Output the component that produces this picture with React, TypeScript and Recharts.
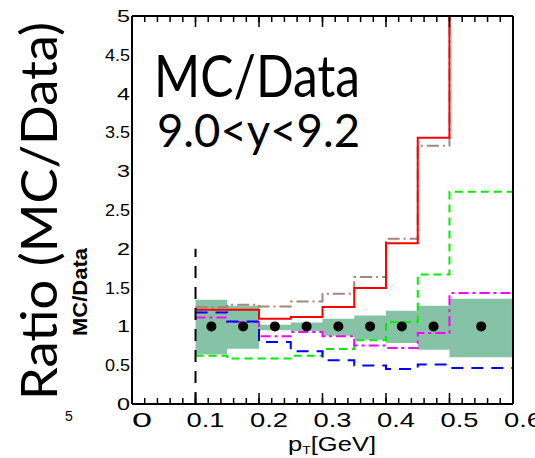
import { ComposedChart, Area, Line, Scatter, XAxis, YAxis, ReferenceLine } from "recharts";

// pT bin edges and centres
const binEdges = [0.1, 0.15, 0.2, 0.25, 0.3, 0.35, 0.4, 0.45, 0.5, 0.6];
const binCenters = [0.125, 0.175, 0.225, 0.275, 0.325, 0.375, 0.425, 0.475, 0.55];

// data points (ratio to itself) and their uncertainty band
const dataRatio = [1, 1, 1, 1, 1, 1, 1, 1, 1];
const bandLow = [0.636, 0.713, 0.949, 0.936, 0.88, 0.829, 0.787, 0.7, 0.602];
const bandHigh = [1.343, 1.266, 1.022, 1.051, 1.099, 1.141, 1.202, 1.266, 1.356];

// MC / Data per generator
const mcRed = [1.215, 1.215, 1.099, 1.121, 1.249, 1.494, 2.072, 3.43, 6.0];
const mcBrown = [1.249, 1.279, 1.257, 1.321, 1.42, 1.635, 2.131, 3.327, 6.0];
const mcGreen = [0.623, 0.585, 0.585, 0.623, 0.709, 0.82, 1.056, 1.668, 2.735];
const mcMagenta = [1.116, 1.056, 0.872, 0.928, 0.872, 0.752, 0.722, 0.915, 1.429];
const mcBlue = [1.18, 1.064, 0.8, 0.679, 0.563, 0.495, 0.452, 0.508, 0.465];

// acceptance cut marker
const cutX = 0.1;
const cutTop = 2;

// axes
const xMajorTicks = [0, 0.1, 0.2, 0.3, 0.4, 0.5, 0.6];
const xTickLabels = ["0", "0.1", "0.2", "0.3", "0.4", "0.5", "0.6"];
const yMajorTicks = [0, 0.5, 1, 1.5, 2, 2.5, 3, 3.5, 4, 4.5, 5];
const yTickLabels = ["0", "0.5", "1", "1.5", "2", "2.5", "3", "3.5", "4", "4.5", "5"];
const xMinorTicks = Array.from({ length: 31 }, (_, i) => +(i * 0.02).toFixed(2));
const yMinorTicks = Array.from({ length: 51 }, (_, i) => +(i * 0.1).toFixed(1));

const nBins = binCenters.length;
const histRows = binEdges.map((x, i) => {
  const b = Math.min(i, nBins - 1);
  return {
    x,
    band: [bandLow[b], bandHigh[b]],
    red: mcRed[b],
    brown: mcBrown[b],
    green: mcGreen[b],
    magenta: mcMagenta[b],
    blue: mcBlue[b],
  };
});
const points = binCenters.map((x, i) => ({ x, ratio: dataRatio[i] }));

const W = 535;
const H = 458;
const AX = 0.01; // axes take (almost) no room, so every side shares the frame line
const axisFont = "'Liberation Sans', Arial, sans-serif";
const titleFont = "Lato, 'Open Sans', sans-serif";
const frame = { stroke: "#000", strokeWidth: 2 };

const XTick = ({ x, y, payload }: any) => {
  const label = xTickLabels[xMajorTicks.indexOf(payload.value)] ?? "";
  return (
    <text
      x={x + 10}
      y={y + 23}
      textAnchor="middle"
      fontFamily={axisFont}
      fontSize={21}
      textLength={label.length > 1 ? 38 : 20}
      lengthAdjust="spacingAndGlyphs"
      fill="#000"
    >
      {label}
    </text>
  );
};

const YTick = ({ x, y, payload }: any) => {
  const label = yTickLabels[yMajorTicks.indexOf(payload.value)] ?? "";
  return (
    <text
      x={x - 2}
      y={y + 6}
      textAnchor="end"
      fontFamily={axisFont}
      fontSize={17}
      textLength={label.length > 1 ? 25 : 13}
      lengthAdjust="spacingAndGlyphs"
      fill="#000"
    >
      {label}
    </text>
  );
};

// inward-pointing tick mark (ROOT style) at the position the axis hands us
const TickMark = ({ x, y, side, len }: any) => {
  const dx = side === "left" ? len : side === "right" ? -len : 0;
  const dy = side === "bottom" ? -len : side === "top" ? len : 0;
  return <line x1={x} y1={y} x2={x + dx} y2={y + dy} stroke="#000" strokeWidth={1.5} />;
};

const tickAxes = [
  { side: "bottom", ticks: xMajorTicks, size: 11 },
  { side: "bottom", ticks: xMinorTicks, size: 6 },
  { side: "top", ticks: xMajorTicks, size: 11 },
  { side: "top", ticks: xMinorTicks, size: 6 },
  { side: "left", ticks: yMajorTicks, size: 12 },
  { side: "left", ticks: yMinorTicks, size: 6 },
  { side: "right", ticks: yMajorTicks, size: 12 },
  { side: "right", ticks: yMinorTicks, size: 6 },
];

export default function App() {
  return (
    <div style={{ position: "absolute", left: 0, top: 0, width: W, height: H, background: "#fff" }}>
      <ComposedChart
        width={W}
        height={H}
        data={histRows}
        margin={{ top: 16, right: 22, bottom: 54, left: 132 }}
      >
        <XAxis
          xAxisId="x"
          dataKey="x"
          type="number"
          domain={[0, 0.6]}
          allowDataOverflow
          ticks={xMajorTicks}
          interval={0}
          height={AX}
          tickSize={0}
          tickMargin={0}
          axisLine={frame}
          tickLine={false}
          tick={<XTick />}
        />
        <XAxis
          xAxisId="xTop"
          orientation="top"
          dataKey="x"
          type="number"
          domain={[0, 0.6]}
          ticks={xMajorTicks}
          height={AX}
          axisLine={frame}
          tickLine={false}
          tick={false}
        />
        <YAxis
          yAxisId="y"
          type="number"
          domain={[0, 5]}
          allowDataOverflow
          ticks={yMajorTicks}
          interval={0}
          width={AX}
          tickSize={0}
          tickMargin={0}
          axisLine={frame}
          tickLine={false}
          tick={<YTick />}
        />
        <YAxis
          yAxisId="yRight"
          orientation="right"
          type="number"
          domain={[0, 5]}
          ticks={yMajorTicks}
          width={AX}
          axisLine={frame}
          tickLine={false}
          tick={false}
        />
        {tickAxes.map((a, i) =>
          a.side === "bottom" || a.side === "top" ? (
            <XAxis
              key={i}
              xAxisId={`t${i}`}
              orientation={a.side as "bottom" | "top"}
              dataKey="x"
              type="number"
              domain={[0, 0.6]}
              ticks={a.ticks}
              interval={0}
              height={AX}
              tickSize={0}
              tickMargin={0}
              axisLine={false}
              tickLine={false}
              tick={<TickMark side={a.side} len={a.size} />}
            />
          ) : (
            <YAxis
              key={i}
              yAxisId={`t${i}`}
              orientation={a.side as "left" | "right"}
              type="number"
              domain={[0, 5]}
              ticks={a.ticks}
              interval={0}
              width={AX}
              tickSize={0}
              tickMargin={0}
              axisLine={false}
              tickLine={false}
              tick={<TickMark side={a.side} len={a.size} />}
            />
          )
        )}

        <Area
          xAxisId="x"
          yAxisId="y"
          dataKey="band"
          type="stepAfter"
          fill="#86c3a6"
          fillOpacity={1}
          stroke="none"
          isAnimationActive={false}
        />
        <Line xAxisId="x" yAxisId="y" dataKey="brown" type="stepAfter" stroke="#a2877a" strokeWidth={2} strokeDasharray="12 4 2 4" dot={false} isAnimationActive={false} />
        <Line xAxisId="x" yAxisId="y" dataKey="red" type="stepAfter" stroke="#ff0000" strokeWidth={2} dot={false} isAnimationActive={false} />
        <Line xAxisId="x" yAxisId="y" dataKey="green" type="stepAfter" stroke="#00ee00" strokeWidth={2} strokeDasharray="8 5" dot={false} isAnimationActive={false} />
        <Line xAxisId="x" yAxisId="y" dataKey="magenta" type="stepAfter" stroke="#ff00ff" strokeWidth={2} strokeDasharray="10 4 3 4" dot={false} isAnimationActive={false} />
        <Line xAxisId="x" yAxisId="y" dataKey="blue" type="stepAfter" stroke="#0000ff" strokeWidth={2} strokeDasharray="12 8" dot={false} isAnimationActive={false} />
        <Scatter
          xAxisId="x"
          yAxisId="y"
          data={points}
          dataKey="ratio"
          fill="#000"
          shape={(p: any) => <circle cx={p.cx} cy={p.cy} r={5} fill="#000" />}
          isAnimationActive={false}
        />
        <ReferenceLine
          xAxisId="x"
          yAxisId="y"
          segment={[{ x: cutX, y: 0 }, { x: cutX, y: cutTop }]}
          stroke="#000"
          strokeWidth={2}
          strokeDasharray="12 9"
        />
      </ComposedChart>

      <svg
        width={W}
        height={H}
        style={{ position: "absolute", left: 0, top: 0, pointerEvents: "none" }}
      >
        <text x={154} y={97} fontFamily={titleFont} fontSize={59} textLength={206} lengthAdjust="spacingAndGlyphs" fill="#000">
          MC/Data
        </text>
        <text x={157} y={147} fontFamily={titleFont} fontSize={47} textLength={203} lengthAdjust="spacingAndGlyphs" fill="#000">
          9.0&lt;y&lt;9.2
        </text>
        <text
          transform="translate(57,211) rotate(-90)"
          textAnchor="middle"
          fontFamily={titleFont}
          fontSize={50}
          textLength={378}
          lengthAdjust="spacingAndGlyphs"
          fill="#000"
        >
          Ratio (MC/Data)
        </text>
        <text
          transform="translate(87,292) rotate(-90)"
          textAnchor="middle"
          fontFamily={axisFont}
          fontSize={20}
          fontWeight="bold"
          textLength={88}
          lengthAdjust="spacingAndGlyphs"
          fill="#000"
        >
          MC/Data
        </text>
        <text x={69} y={421} textAnchor="middle" fontFamily={axisFont} fontSize={14} fill="#000">
          5
        </text>
        <text x={288} y={451} fontFamily={axisFont} fontSize={20} textLength={88} lengthAdjust="spacingAndGlyphs" fill="#000">
          p<tspan dy={3} fontSize={11}>T</tspan>
          <tspan dy={-3}>[GeV]</tspan>
        </text>
      </svg>
    </div>
  );
}
